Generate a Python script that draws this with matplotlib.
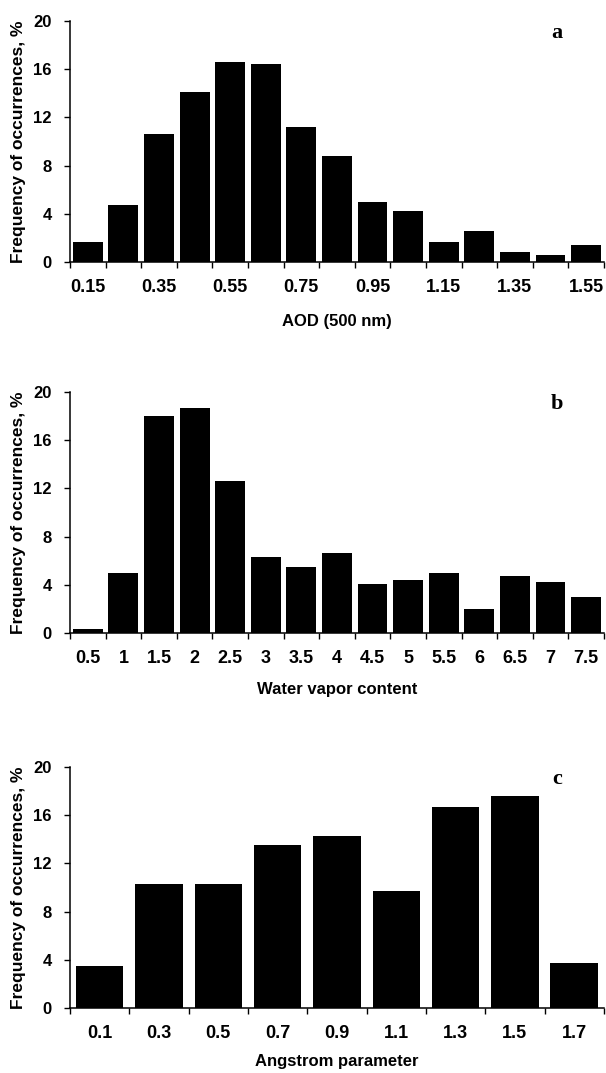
import matplotlib
matplotlib.use("Agg")
import matplotlib.pyplot as plt
import numpy as np

plt.rcParams['font.family'] = ['Liberation Sans', 'DejaVu Sans']
plt.rcParams['font.weight'] = 'bold'
plt.rcParams['axes.labelweight'] = 'bold'

# panel a : AOD (500 nm)
aod_cat = ["0.15", "0.25", "0.35", "0.45", "0.55", "0.65", "0.75", "0.85",
           "0.95", "1.05", "1.15", "1.25", "1.35", "1.45", "1.55"]
aod_freq = [1.7, 4.7, 10.6, 14.1, 16.6, 16.4, 11.2, 8.8, 5.0, 4.2, 1.7, 2.6, 0.8, 0.6, 1.4]

# panel b : water vapor
wv_cat = ["0.5", "1", "1.5", "2", "2.5", "3", "3.5", "4", "4.5", "5",
          "5.5", "6", "6.5", "7", "7.5"]
wv_freq = [0.3, 5.0, 18.0, 18.7, 12.6, 6.3, 5.5, 6.6, 4.1, 4.4, 5.0, 2.0, 4.7, 4.2, 3.0]

# panel c : Angstrom parameter
ang_cat = ["0.1", "0.3", "0.5", "0.7", "0.9", "1.1", "1.3", "1.5", "1.7"]
ang_freq = [3.5, 10.3, 10.3, 13.5, 14.3, 9.7, 16.7, 17.6, 3.7]

panels = [
    (aod_cat, aod_freq, "AOD (500 nm)", "a", 0.84, 2, 0.7558, -0.215),
    (wv_cat, wv_freq, "Water vapor content", "b", 0.84, 1, 0.4101, -0.205),
    (ang_cat, ang_freq, "Angstrom parameter", "c", 0.80, 1, 0.0606, -0.19),
]

fig = plt.figure(figsize=(6.06, 10.73), dpi=100)

for cats, vals, xlab, letter, w, step, bottom, xlab_y in panels:
    ax = fig.add_axes([0.1155, bottom, 0.881, 0.2246])
    n = len(cats)
    x = np.arange(n)
    ax.bar(x, vals, width=w, color="black", edgecolor="none")
    ax.set_xlim(-0.5, n - 0.5)
    ax.set_ylim(0, 20)
    ax.set_yticks([0, 4, 8, 12, 16, 20])
    ax.tick_params(axis="y", direction="out", length=4, width=1, pad=9, labelsize=12)

    # boundary ticks, labels centred under bars
    ax.set_xticks(np.arange(n + 1) - 0.5)
    ax.set_xticklabels([])
    ax.set_xticks(x, minor=True)
    ax.set_xticklabels([c if i % step == 0 else "" for i, c in enumerate(cats)], minor=True)
    ax.tick_params(axis="x", which="major", direction="out", length=4, width=1)
    ax.tick_params(axis="x", which="minor", length=0, pad=12, labelsize=13)

    for s in ["top", "right"]:
        ax.spines[s].set_visible(False)
    for s in ["left", "bottom"]:
        ax.spines[s].set_linewidth(1.1)

    ax.set_xlabel(xlab, fontsize=12)
    ax.xaxis.set_label_coords(0.5, xlab_y)
    ax.set_ylabel("Frequency of occurrences, %", fontsize=12.5, va="center")
    ax.yaxis.set_label_coords(-0.097, 0.5)

    ax.text(0.912, 0.95, letter, transform=ax.transAxes, ha="center", va="center",
            fontsize=16, fontweight="bold", family="Liberation Serif")

fig.savefig("out.png", dpi=100)
